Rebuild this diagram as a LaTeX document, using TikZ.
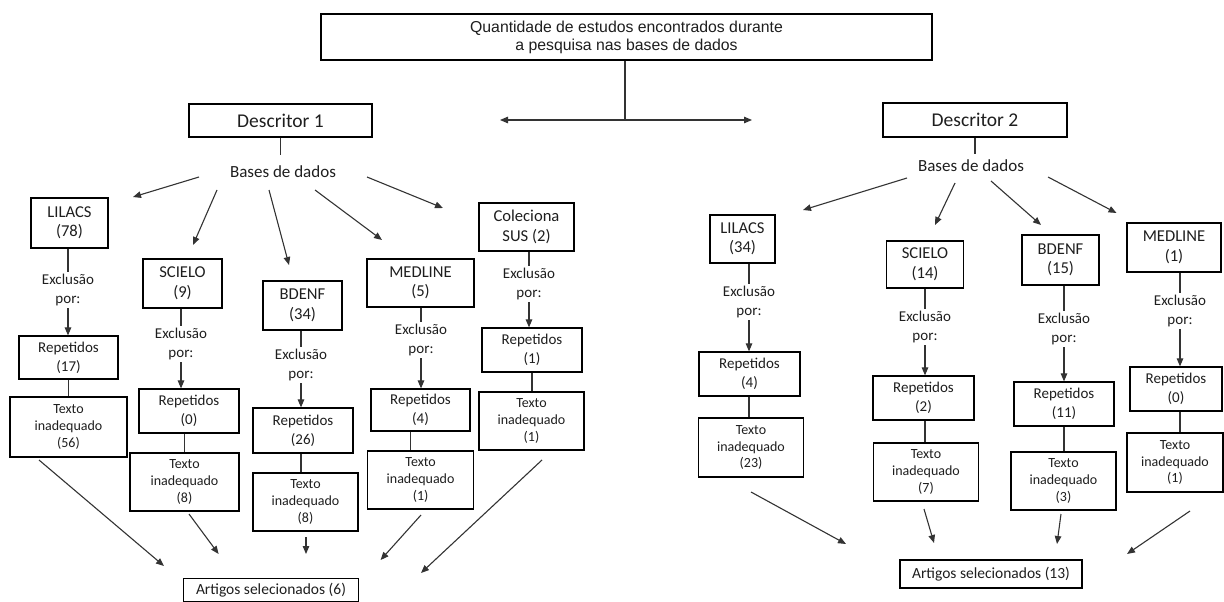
\documentclass[tikz,border=0pt]{standalone}
\usepackage{fontspec}
\setmainfont{Carlito}
\newfontfamily\arialf{Liberation Sans}
\usetikzlibrary{arrows.meta}
\definecolor{txt}{HTML}{1E1E1E}
\definecolor{lnc}{HTML}{333333}
\begin{document}
\begin{tikzpicture}[x=1pt,y=-1pt,
  box/.style={draw=black, line width=1.2pt, inner sep=0pt, align=center, text=txt, font=\fontsize{15}{19}\selectfont},
  bbox/.style={box, font=\fontsize{16.6}{19.5}\selectfont},
  tbox/.style={box, font=\fontsize{14}{16.7}\selectfont},
  dbox/.style={box, font=\fontsize{19.5}{22}\selectfont},
  exc/.style={inner xsep=0pt, inner ysep=2pt, align=center, text=txt, font=\fontsize{15}{19}\selectfont},
  bases/.style={inner xsep=0pt, align=center, text=txt, font=\fontsize{17}{20}\selectfont},
  ln/.style={line width=1.1pt, draw=lnc},
  ar/.style={ln, -{Triangle[length=8pt,width=6.5pt]}},
  dar/.style={ln, {Triangle[length=8pt,width=6.5pt]}-{Triangle[length=8pt,width=6.5pt]}},
]
\useasboundingbox (0,0) rectangle (1224,602);

% top
\node[box, line width=1.4pt, font=\arialf\fontsize{15.8}{18}\selectfont, minimum width=611, minimum height=46] (top) at (626.5,37) {Quantidade de estudos encontrados durante\\a pesquisa nas bases de dados};
\coordinate (jn) at (625,120);
\coordinate (dl) at (500,120);
\coordinate (dr) at (752,120);
\draw[ln] (top.south -| jn) -- (jn);
\draw[dar] (dl) -- (dr);

% ===== Descritor 1 =====
\node[dbox, minimum width=183, minimum height=33] (d1) at (280.5,120.5) {Descritor 1};
\node[bases, inner ysep=11pt] (b1) at (283,172) {Bases de dados};
\draw[ln] (d1.south) -- (d1.south |- b1.north);

\node[bbox, minimum width=77, minimum height=50] (lilA) at (69.5,223) {LILACS\\(78)};
\node[exc] (eA) at (68,290) {Exclusão\\por:};
\node[box, minimum width=99, minimum height=43] (repA) at (68.5,357.5) {Repetidos\\(17)};
\node[tbox, minimum width=117, minimum height=60] (texA) at (68.5,427) {Texto\\inadequado\\(56)};

\node[bbox, minimum width=79, minimum height=49] (sciA) at (182.5,283.5) {SCIELO\\(9)};
\node[exc] (eB) at (181,344) {Exclusão\\por:};
\node[box, minimum width=100, minimum height=44] (repB) at (189,411) {Repetidos\\(0)};
\node[tbox, minimum width=109, minimum height=58] (texB) at (184.5,482) {Texto\\inadequado\\(8)};

\node[bbox, minimum width=79, minimum height=49] (bdA) at (302.5,305.5) {BDENF\\(34)};
\node[exc] (eC) at (301,365) {Exclusão\\por:};
\node[box, minimum width=100, minimum height=45] (repC) at (303,430.5) {Repetidos\\(26)};
\node[tbox, minimum width=105, minimum height=58] (texC) at (305.5,502) {Texto\\inadequado\\(8)};

\node[bbox, minimum width=107, minimum height=48] (medA) at (420.5,283) {MEDLINE\\(5)};
\node[exc] (eD) at (421,340) {Exclusão\\por:};
\node[box, minimum width=99, minimum height=42] (repD) at (420.5,410) {Repetidos\\(4)};
\node[tbox, minimum width=106, minimum height=58] (texD) at (420.6,480) {Texto\\inadequado\\(1)};

\node[bbox, minimum width=95, minimum height=48] (colA) at (526.5,227) {Coleciona\\SUS (2)};
\node[exc] (eE) at (529,284) {Exclusão\\por:};
\node[box, minimum width=100, minimum height=44] (repE) at (532,350) {Repetidos\\(1)};
\node[tbox, minimum width=105, minimum height=58] (texE) at (531.5,421) {Texto\\inadequado\\(1)};

\node[box, font=\fontsize{15.5}{19}\selectfont, minimum width=175, minimum height=23] (art1) at (271,590) {Artigos selecionados (6)};

% chains left
\draw[ln] (lilA.south -| eA) -- (eA.north);
\draw[ar] (eA.south) -- (eA.south |- repA.north);
\draw[ln] (repA.south) -- (texA.north);

\draw[ln] (sciA.south -| eB) -- (eB.north);
\draw[ar] (eB.south) -- (eB.south |- repB.north);
\draw[ln] (repB.south -| texB) -- (texB.north);

\draw[ln] (bdA.south -| eC) -- (eC.north);
\draw[ar] (eC.south) -- (eC.south |- repC.north);
\draw[ln] (repC.south -| eC) -- (eC |- texC.north);

\draw[ln] (medA.south -| eD) -- (eD.north);
\draw[ar] (eD.south) -- (eD.south |- repD.north);
\draw[ln] ([xshift=-10pt]repD.south) -- ([xshift=-10pt]repD.south |- texD.north);

\draw[ln] (colA.south -| eE) -- (eE.north);
\draw[ar] (eE.south) -- (eE.south |- repE.north);
\draw[ln] (repE.south) -- (repE.south |- texE.north);

% top arrows left
\coordinate (a1s) at (199,177); \coordinate (a1e) at (133,197);
\coordinate (a2s) at (217,190); \coordinate (a2e) at (193,245);
\coordinate (a3s) at (269,190); \coordinate (a3e) at (289,265);
\coordinate (a4s) at (315,190); \coordinate (a4e) at (382,240);
\coordinate (a5s) at (367,177); \coordinate (a5e) at (443,208);
\foreach \i in {1,...,5} \draw[ar] (a\i s) -- (a\i e);

% bottom arrows left
\coordinate (c1s) at (39,460);  \coordinate (c1e) at (164,566);
\coordinate (c2s) at (189,514); \coordinate (c2e) at (218.6,554);
\coordinate (c3s) at (306,537); \coordinate (c3e) at (306,554);
\coordinate (c4s) at (421,515); \coordinate (c4e) at (380.6,560);
\coordinate (c5s) at (542,460); \coordinate (c5e) at (421,573);
\foreach \i in {1,...,5} \draw[ar] (c\i s) -- (c\i e);

% ===== Descritor 2 =====
\node[dbox, minimum width=184, minimum height=34] (d2) at (975,120) {Descritor 2};
\node[bases, inner ysep=5.5pt] (b2) at (971,166) {Bases de dados};
\draw[ln] (d2.south) -- (d2.south |- b2.north);

\node[bbox, minimum width=65, minimum height=48] (lilB) at (742.5,239) {LILACS\\(34)};
\node[exc] (eF) at (749,302) {Exclusão\\por:};
\node[box, minimum width=101, minimum height=44] (repF) at (749.5,374) {Repetidos\\(4)};
\node[tbox, minimum width=105, minimum height=59] (texF) at (751,447.5) {Texto\\inadequado\\(23)};

\node[bbox, minimum width=76.5, minimum height=47] (sciB) at (925,264.5) {SCIELO\\(14)};
\node[exc] (eG) at (925,327) {Exclusão\\por:};
\node[box, minimum width=101, minimum height=44] (repG) at (923.5,398) {Repetidos\\(2)};
\node[tbox, minimum width=105.5, minimum height=58] (texG) at (926,472) {Texto\\inadequado\\(7)};

\node[bbox, minimum width=77, minimum height=50] (bdB) at (1060.5,260) {BDENF\\(15)};
\node[exc] (eH) at (1064,329) {Exclusão\\por:};
\node[box, minimum width=100, minimum height=44] (repH) at (1064,404) {Repetidos\\(11)};
\node[tbox, minimum width=105, minimum height=58] (texH) at (1063.5,481) {Texto\\inadequado\\(3)};

\node[bbox, minimum width=94, minimum height=49] (medB) at (1174,247.5) {MEDLINE\\(1)};
\node[exc] (eI) at (1180,311) {Exclusão\\por:};
\node[box, minimum width=92, minimum height=44] (repI) at (1176,389) {Repetidos\\(0)};
\node[tbox, minimum width=96, minimum height=59] (texI) at (1175,462.5) {Texto\\inadequado\\(1)};

\node[box, font=\fontsize{15.5}{19}\selectfont, minimum width=182, minimum height=28] (art2) at (991,574) {Artigos selecionados (13)};

\draw[ln] (lilB.south -| eF) -- (eF.north);
\draw[ar] (eF.south) -- (eF.south |- repF.north);
\draw[ln] (repF.south -| eF) -- (eF |- texF.north);

\draw[ln] (sciB.south -| eG) -- (eG.north);
\draw[ar] (eG.south) -- (eG.south |- repG.north);
\draw[ln] (repG.south -| eG) -- (eG |- texG.north);

\draw[ln] (bdB.south -| eH) -- (eH.north);
\draw[ar] (eH.south) -- (eH.south |- repH.north);
\draw[ln] (repH.south -| eH) -- (eH |- texH.north);

\draw[ln] (medB.south -| eI) -- (eI.north);
\draw[ar] (eI.south) -- (eI.south |- repI.north);
\draw[ln] (repI.south -| eI) -- (eI |- texI.north);

% top arrows right
\coordinate (r1s) at (907,178);  \coordinate (r1e) at (803,210);
\coordinate (r2s) at (955,183);  \coordinate (r2e) at (935,225);
\coordinate (r3s) at (991,181);  \coordinate (r3e) at (1041,225);
\coordinate (r4s) at (1048,177); \coordinate (r4e) at (1116.5,213);
\foreach \i in {1,...,4} \draw[ar] (r\i s) -- (r\i e);

% bottom arrows right
\coordinate (q1s) at (751,492);  \coordinate (q1e) at (846,544);
\coordinate (q2s) at (924,509);  \coordinate (q2e) at (934,543);
\coordinate (q3s) at (1061,514); \coordinate (q3e) at (1057,544);
\coordinate (q4s) at (1190,511); \coordinate (q4e) at (1127,554);
\foreach \i in {1,...,4} \draw[ar] (q\i s) -- (q\i e);
\end{tikzpicture}
\end{document}
